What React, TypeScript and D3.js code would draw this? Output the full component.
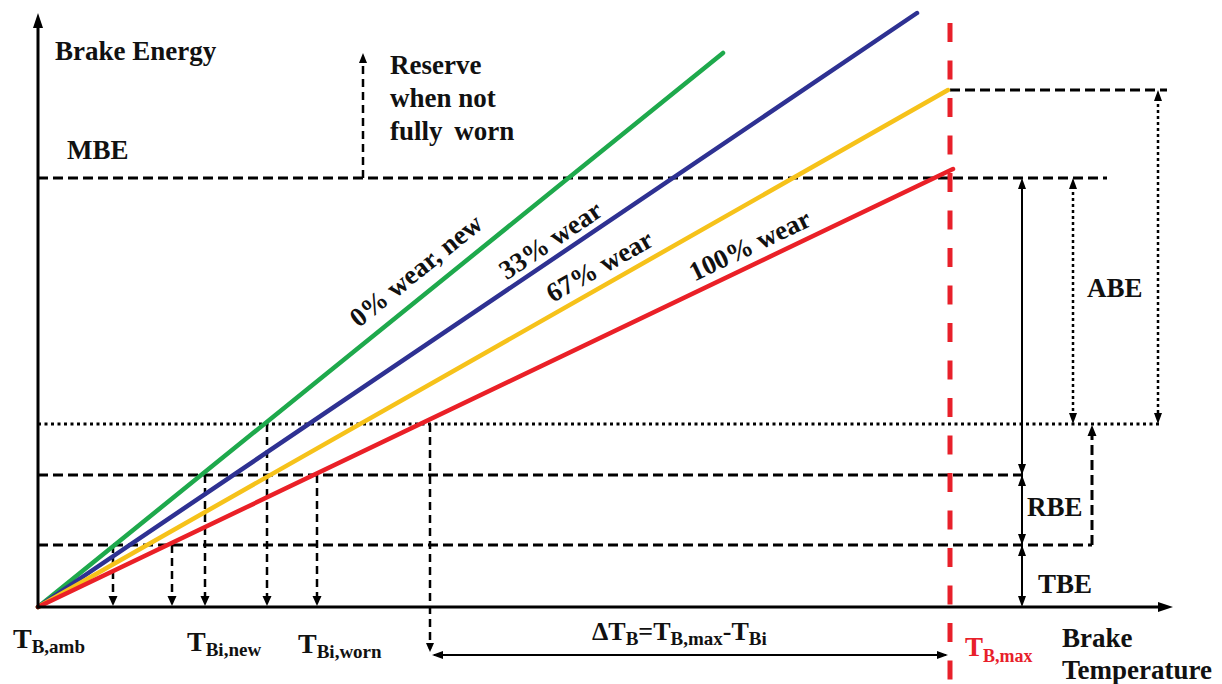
import React from "react";
import * as d3 from "d3";

// ---- data (temperature / energy in abstract diagram units) ----
const wearLabels = ["0% wear, new", "33% wear", "67% wear", "100% wear"];
const wearEndT = [685, 879, 910, 915];
const wearEndE = [554, 594, 517, 438];
const labelAtT = [393, 522, 571, 720];

const T_MAX = 912;
const E_MBE = 429;
const E_TOP = 517;
const E_BI = 183;
const E_RBE = 132;
const E_TBE = 62;

const dropT = [75, 134, 167, 229, 279];
const dropE = [62, 62, 132, 183, 132];
const deltaT = 392;

// ---- styles ----
const wearColors = ["#1ea94c", "#2e3192", "#f6c21a", "#ea2027"];
const labelOffset = [15, 8, 10, 10];
const FONT = "Liberation Serif";

const W = 1222;
const H = 684;

const x = d3.scaleLinear().domain([0, 1135]).range([38, 1173]);
const y = d3.scaleLinear().domain([0, 594]).range([607, 13]);

function arrowHead(tx: number, ty: number, dir: "up" | "down" | "left" | "right", L = 10, Wd = 8) {
  let pts: [number, number][] = [];
  const h = Wd / 2;
  if (dir === "up") pts = [[tx, ty], [tx - h, ty + L], [tx + h, ty + L]];
  if (dir === "down") pts = [[tx, ty], [tx - h, ty - L], [tx + h, ty - L]];
  if (dir === "left") pts = [[tx, ty], [tx + L, ty - h], [tx + L, ty + h]];
  if (dir === "right") pts = [[tx, ty], [tx - L, ty - h], [tx - L, ty + h]];
  return <polygon points={pts.map((p) => p.join(",")).join(" ")} fill="#000" />;
}

const DASH = "10 5";
const DOT = "3 3.5";

export default function App() {
  const line = d3.line<[number, number]>().x((d) => x(d[0])).y((d) => y(d[1]));
  const x0 = x(0);
  const y0 = y(0);
  const xm = x(T_MAX);

  const hLine = (e: number, t0: number, t1: number, dash: string, key: string) => (
    <line key={key} x1={x(t0)} x2={x(t1)} y1={y(e)} y2={y(e)} stroke="#000" strokeWidth={3} strokeDasharray={dash} />
  );

  const T = (props: any) => (
    <text fontWeight={700} fill="#111" {...props} style={{ fontFamily: FONT, ...(props.style || {}) }} />
  );

  return (
    <svg width={W} height={H} style={{ position: "absolute", left: 0, top: 0, background: "#fff" }}>
      {/* horizontal level lines */}
      {hLine(E_MBE, 0, 1069, DASH, "mbe")}
      {hLine(E_TOP, T_MAX, 1129, DASH, "top")}
      {hLine(E_BI, 0, 1124, DOT, "bi")}
      {hLine(E_RBE, 0, 984, DASH, "rbe")}
      {hLine(E_TBE, 0, 1054, DASH, "tbe")}

      {/* drop arrows to the temperature axis */}
      {dropT.map((t, i) => (
        <g key={"d" + i}>
          <line x1={x(t)} x2={x(t)} y1={y(dropE[i])} y2={y0 - 9} stroke="#000" strokeWidth={2.5} strokeDasharray="8 5" />
          {arrowHead(x(t), y0 - 1, "down", 10, 9)}
        </g>
      ))}

      {/* delta T construction */}
      <line x1={x(deltaT)} x2={x(deltaT)} y1={y(E_BI)} y2={y(-42)} stroke="#000" strokeWidth={2.5} strokeDasharray="8 5" />
      {arrowHead(x(deltaT), y(-45), "down", 9, 8)}
      <line x1={x(deltaT) + 4} x2={xm - 4} y1={y(-48)} y2={y(-48)} stroke="#000" strokeWidth={2} />
      {arrowHead(x(deltaT) + 2, y(-48), "left", 11, 8)}
      {arrowHead(xm - 2, y(-48), "right", 11, 8)}

      {/* reserve arrow */}
      <line x1={x(325)} x2={x(325)} y1={y(E_MBE)} y2={y(545)} stroke="#000" strokeWidth={2.5} strokeDasharray="8 5" />
      {arrowHead(x(325), y(554), "up", 10, 8)}

      {/* right side brackets */}
      <line x1={x(984)} x2={x(984)} y1={y(E_MBE) + 6} y2={y0 - 6} stroke="#000" strokeWidth={2} />
      {arrowHead(x(984), y(E_MBE), "up", 11, 8)}
      {arrowHead(x(984), y(E_RBE), "down", 11, 8)}
      {arrowHead(x(984), y(E_RBE), "up", 11, 8)}
      {arrowHead(x(984), y(E_TBE), "down", 11, 8)}
      {arrowHead(x(984), y(E_TBE), "up", 11, 8)}
      {arrowHead(x(984), y0, "down", 11, 8)}

      <line x1={x(1035)} x2={x(1035)} y1={y(E_MBE) + 8} y2={y(E_BI) - 8} stroke="#000" strokeWidth={2.5} strokeDasharray="3 3" />
      {arrowHead(x(1035), y(E_MBE), "up", 11, 8)}
      {arrowHead(x(1035), y(E_BI), "down", 11, 8)}

      <line x1={x(1120)} x2={x(1120)} y1={y(E_TOP) + 8} y2={y(E_BI) - 8} stroke="#000" strokeWidth={2.5} strokeDasharray="3 3" />
      {arrowHead(x(1120), y(E_TOP), "up", 11, 8)}
      {arrowHead(x(1120), y(E_BI), "down", 11, 8)}

      <line x1={x(1054)} x2={x(1054)} y1={y(E_TBE)} y2={y(E_BI) + 8} stroke="#000" strokeWidth={3} strokeDasharray="10 5" />
      {arrowHead(x(1054), y(E_BI) + 1, "up", 11, 9)}

      {/* wear lines */}
      {wearEndT.map((t, i) => (
        <path key={"w" + i} d={line([[0, 0], [t, wearEndE[i]]]) || ""} stroke={wearColors[i]} strokeWidth={4.5} fill="none" strokeLinecap="round" />
      ))}

      {/* T_B,max */}
      <line x1={xm} x2={xm} y1={23} y2={H} stroke="#e8202a" strokeWidth={5} strokeDasharray="19 18.5" />

      {/* axes */}
      <line x1={x0} x2={x0} y1={y0 + 1.5} y2={y(580)} stroke="#000" strokeWidth={3} />
      {arrowHead(x0, y(594), "up", 15, 10)}
      <line x1={x0 - 1.5} x2={x(1122)} y1={y0} y2={y0} stroke="#000" strokeWidth={3} />
      {arrowHead(x(1135), y0, "right", 15, 10)}

      {/* wear labels */}
      {wearLabels.map((lab, i) => {
        const t = labelAtT[i];
        const slopePx = (y(0) - y(wearEndE[i])) / (x(wearEndT[i]) - x(0));
        const ang = Math.atan(slopePx);
        const px = x(t);
        const py = y((wearEndE[i] / wearEndT[i]) * t);
        const d = labelOffset[i];
        const lx = px - Math.sin(ang) * d;
        const ly = py - Math.cos(ang) * d;
        return (
          <T key={"l" + i} x={lx} y={ly} textAnchor="middle" fontSize={27}
            transform={`rotate(${(-ang * 180) / Math.PI} ${lx} ${ly})`}>
            {lab}
          </T>
        );
      })}

      {/* texts */}
      <T x={55} y={60} fontSize={27}>Brake Energy</T>
      <T x={67} y={159} fontSize={27}>MBE</T>
      <T x={390} y={74} fontSize={27}>Reserve</T>
      <T x={390} y={107} fontSize={27}>when not</T>
      <T x={390} y={140} fontSize={27} style={{ wordSpacing: 5 }}>fully worn</T>
      <T x={1087} y={297} fontSize={27}>ABE</T>
      <T x={1027} y={516} fontSize={27}>RBE</T>
      <T x={1038} y={593} fontSize={27}>TBE</T>

      <T x={13} y={648} fontSize={28}>T<tspan fontSize={19} dy={5}>B,amb</tspan></T>
      <T x={187} y={651} fontSize={28}>T<tspan fontSize={19} dy={5}>Bi,new</tspan></T>
      <T x={298} y={653} fontSize={28}>T<tspan fontSize={19} dy={5}>Bi,worn</tspan></T>

      <T x={592} y={640} fontSize={26}>
        ΔT<tspan fontSize={19} dy={5}>B</tspan><tspan dy={-5}>=T</tspan><tspan fontSize={19} dy={5}>B,max</tspan><tspan dy={-5}>-T</tspan><tspan fontSize={19} dy={5}>Bi</tspan>
      </T>

      <T x={965} y={656} fontSize={27} fill="#e8202a">T<tspan fontSize={18} dy={6}>B,max</tspan></T>
      <T x={1062} y={647} fontSize={27}>Brake</T>
      <T x={1062} y={679} fontSize={27}>Temperature</T>
    </svg>
  );
}
